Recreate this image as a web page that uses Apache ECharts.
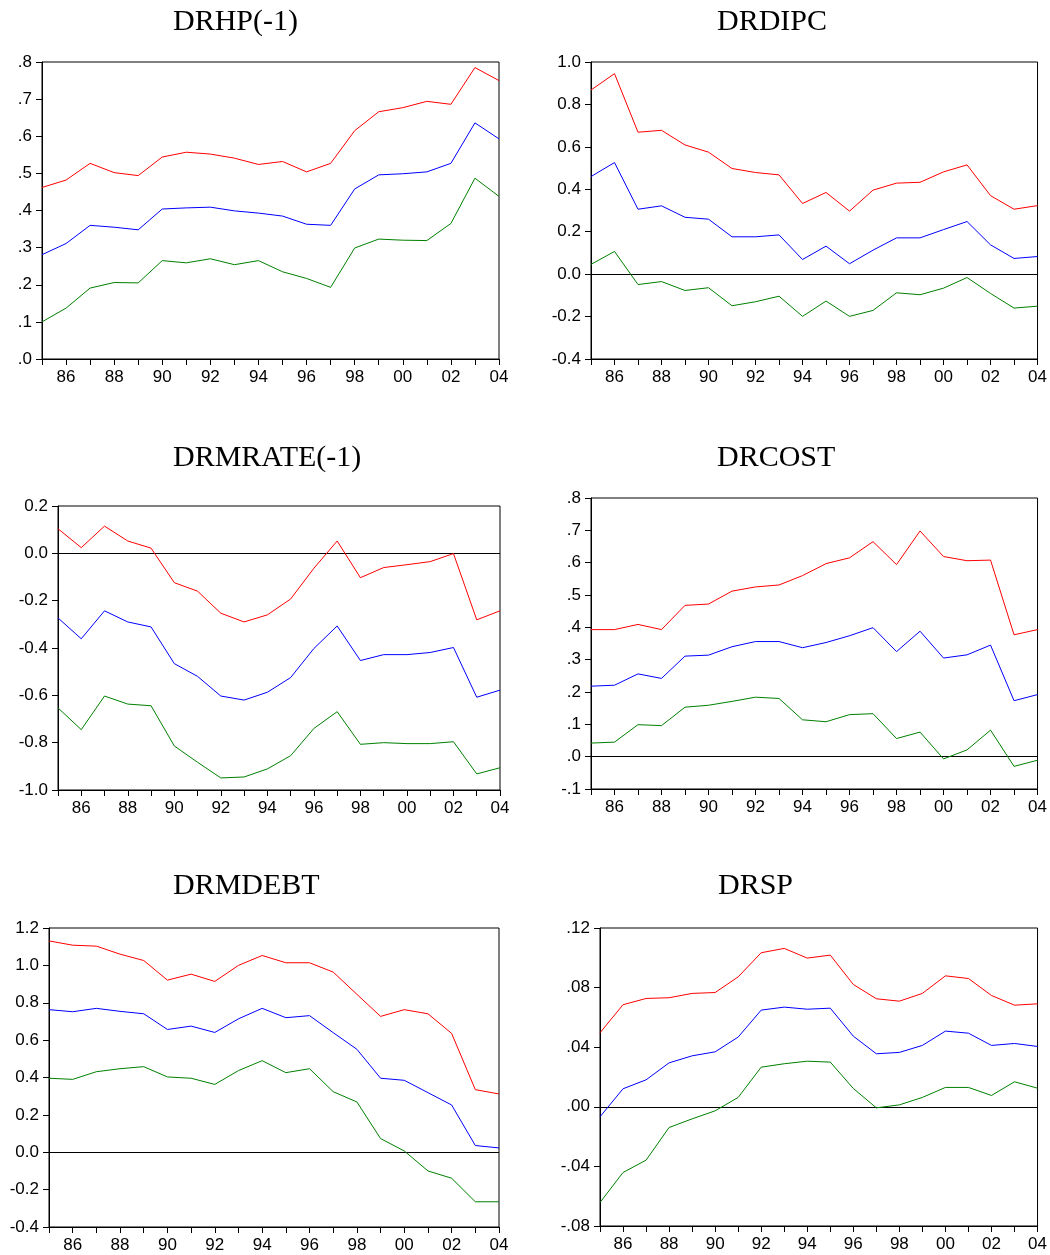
<!DOCTYPE html>
<html>
<head>
<meta charset="utf-8">
<title>Recursive coefficients</title>
<script src="https://cdn.jsdelivr.net/npm/echarts@6/dist/echarts.min.js"></script>
<style>
  html, body { margin: 0; padding: 0; background: #fff; }
  #chart { width: 1050px; height: 1255px; }
</style>
</head>
<body>
<div id="chart"></div>
<script>
// years 1985..2004, shown as two digits
const years = ['85','86','87','88','89','90','91','92','93','94','95','96','97','98','99','00','01','02','03','04'];

// DRHP(-1)
const drhpUpper = [0.462,0.482,0.527,0.502,0.494,0.544,0.557,0.552,0.541,0.524,0.532,0.504,0.527,0.615,0.666,0.677,0.694,0.686,0.785,0.750];
const drhpMid   = [0.281,0.311,0.360,0.355,0.348,0.404,0.407,0.409,0.399,0.393,0.385,0.363,0.360,0.458,0.496,0.499,0.504,0.527,0.636,0.593];
const drhpLower = [0.100,0.137,0.191,0.206,0.205,0.265,0.259,0.270,0.254,0.265,0.235,0.217,0.193,0.299,0.323,0.320,0.319,0.365,0.487,0.438];

// DRDIPC
const drdipcUpper = [0.868,0.945,0.669,0.678,0.609,0.575,0.498,0.479,0.468,0.333,0.385,0.297,0.396,0.429,0.433,0.482,0.515,0.370,0.306,0.323];
const drdipcMid   = [0.460,0.526,0.306,0.322,0.268,0.259,0.176,0.176,0.185,0.069,0.132,0.049,0.113,0.171,0.171,0.210,0.248,0.138,0.074,0.083];
const drdipcLower = [0.046,0.107,-0.049,-0.035,-0.077,-0.064,-0.149,-0.130,-0.104,-0.199,-0.127,-0.199,-0.171,-0.088,-0.097,-0.066,-0.016,-0.091,-0.160,-0.151];

// DRMRATE(-1)
const drmrateUpper = [0.104,0.024,0.115,0.052,0.022,-0.124,-0.160,-0.253,-0.290,-0.260,-0.193,-0.063,0.052,-0.103,-0.060,-0.048,-0.035,-0.001,-0.281,-0.243];
const drmrateMid   = [-0.273,-0.361,-0.243,-0.290,-0.311,-0.466,-0.520,-0.603,-0.620,-0.587,-0.525,-0.402,-0.307,-0.453,-0.428,-0.428,-0.419,-0.398,-0.608,-0.578];
const drmrateLower = [-0.653,-0.745,-0.603,-0.637,-0.644,-0.814,-0.883,-0.949,-0.945,-0.911,-0.855,-0.740,-0.669,-0.807,-0.800,-0.804,-0.804,-0.796,-0.932,-0.906];

// DRCOST
const drcostUpper = [0.393,0.393,0.409,0.393,0.468,0.472,0.512,0.525,0.531,0.560,0.597,0.615,0.665,0.594,0.698,0.619,0.606,0.608,0.377,0.393];
const drcostMid   = [0.218,0.221,0.256,0.242,0.311,0.314,0.340,0.356,0.356,0.337,0.353,0.374,0.399,0.325,0.388,0.305,0.315,0.345,0.173,0.192];
const drcostLower = [0.042,0.045,0.099,0.096,0.153,0.159,0.171,0.184,0.180,0.114,0.108,0.130,0.133,0.056,0.076,-0.007,0.021,0.082,-0.030,-0.011];

// DRMDEBT
const drmdebtUpper = [1.131,1.108,1.103,1.060,1.026,0.921,0.953,0.914,1.000,1.053,1.014,1.014,0.964,0.845,0.727,0.763,0.741,0.636,0.335,0.312];
const drmdebtMid   = [0.763,0.752,0.770,0.754,0.741,0.657,0.675,0.641,0.714,0.770,0.720,0.731,0.640,0.551,0.396,0.385,0.319,0.253,0.036,0.023];
const drmdebtLower = [0.396,0.390,0.431,0.447,0.458,0.403,0.396,0.363,0.437,0.490,0.426,0.447,0.324,0.269,0.073,0.007,-0.100,-0.139,-0.265,-0.265];

// DRSP
const drspUpper = [0.0497,0.0685,0.0727,0.0732,0.0761,0.0767,0.0872,0.1034,0.1063,0.0998,0.1018,0.0821,0.0725,0.0709,0.0761,0.0879,0.0861,0.0747,0.0682,0.0691];
const drspMid   = [-0.0067,0.0121,0.0181,0.0295,0.0342,0.0369,0.0468,0.0649,0.0669,0.0655,0.0662,0.0474,0.0356,0.0365,0.0412,0.0508,0.0494,0.0412,0.0425,0.0405];
const drspLower = [-0.0642,-0.0441,-0.0358,-0.0139,-0.0081,-0.0027,0.0063,0.0266,0.0289,0.0306,0.0300,0.0123,-0.0007,0.0013,0.0063,0.0130,0.0130,0.0076,0.0168,0.0125];

// panel setup: data + axis range + label style
const panels = [
  { name: 'DRHP(-1)',    lines: [drhpUpper, drhpMid, drhpLower],          min: 0,     max: 0.8,  step: 0.1,  dec: 1, dot: true,  zero: false,
    grid: { left: 42, top: 62, width: 457, height: 297 },  tl: 173, tt: 7 },
  { name: 'DRDIPC',      lines: [drdipcUpper, drdipcMid, drdipcLower],    min: -0.4,  max: 1.0,  step: 0.2,  dec: 1, dot: false, zero: true,
    grid: { left: 591, top: 62, width: 450, height: 297 }, tl: 717, tt: 7 },
  { name: 'DRMRATE(-1)', lines: [drmrateUpper, drmrateMid, drmrateLower], min: -1.0,  max: 0.2,  step: 0.2,  dec: 1, dot: false, zero: true,
    grid: { left: 58, top: 506, width: 442, height: 284 }, tl: 173, tt: 443 },
  { name: 'DRCOST',      lines: [drcostUpper, drcostMid, drcostLower],    min: -0.1,  max: 0.8,  step: 0.1,  dec: 1, dot: true,  zero: true,
    grid: { left: 591, top: 498, width: 450, height: 291 }, tl: 717, tt: 443 },
  { name: 'DRMDEBT',     lines: [drmdebtUpper, drmdebtMid, drmdebtLower], min: -0.4,  max: 1.2,  step: 0.2,  dec: 1, dot: false, zero: true,
    grid: { left: 49, top: 928, width: 450, height: 299 }, tl: 173, tt: 871 },
  { name: 'DRSP',        lines: [drspUpper, drspMid, drspLower],          min: -0.08, max: 0.12, step: 0.04, dec: 2, dot: true,  zero: true,
    grid: { left: 600, top: 928, width: 442, height: 298 }, tl: 718, tt: 871 }
];

const lineColors = ['#ff0000', '#0000ff', '#008000'];
const labelFont = { color: '#000', fontFamily: 'Liberation Sans, Arial, sans-serif', fontSize: 17 };

function fmt(dec, dot) {
  return function (v) {
    if (Math.abs(v) < 1e-9) v = 0;
    let s = v.toFixed(dec);
    if (dot) s = s.replace(/^(-?)0\./, '$1.');
    return s;
  };
}

const option = {
  animation: false,
  backgroundColor: '#fff',
  title: [],
  grid: [],
  xAxis: [],
  yAxis: [],
  series: []
};

panels.forEach((p, i) => {
  option.title.push({
    text: p.name, left: p.tl, top: p.tt, padding: 0,
    textStyle: { fontFamily: 'Liberation Serif, Times New Roman, serif', fontSize: 30, fontWeight: 'normal', color: '#000' }
  });
  option.grid.push(Object.assign({ show: true, borderColor: '#000', borderWidth: 1, backgroundColor: 'transparent' }, p.grid));
  option.xAxis.push({
    type: 'category', gridIndex: i, data: years, boundaryGap: false,
    axisLine: { onZero: false, lineStyle: { color: '#000', width: 1 } },
    axisTick: { show: true, interval: 0, length: 6, lineStyle: { color: '#000' } },
    axisLabel: Object.assign({ interval: (idx) => idx % 2 === 1, margin: 10 }, labelFont),
    splitLine: { show: false }
  });
  option.yAxis.push({
    type: 'value', gridIndex: i, min: p.min, max: p.max, interval: p.step,
    axisLine: { show: true, onZero: false, lineStyle: { color: '#000', width: 1 } },
    axisTick: { show: true, length: 6, lineStyle: { color: '#000' } },
    axisLabel: Object.assign({ formatter: fmt(p.dec, p.dot), margin: 10 }, labelFont),
    splitLine: { show: false }
  });
  p.lines.forEach((d, k) => {
    const s = {
      type: 'line', xAxisIndex: i, yAxisIndex: i, data: d,
      symbol: 'none', smooth: false,
      lineStyle: { color: lineColors[k], width: 1 },
      itemStyle: { color: lineColors[k] },
      z: 3
    };
    if (k === 0 && p.zero) {
      s.markLine = {
        silent: true, symbol: 'none', label: { show: false },
        lineStyle: { color: '#000', width: 1, type: 'solid' },
        data: [{ yAxis: 0 }], z: 2
      };
    }
    option.series.push(s);
  });
});

const chart = echarts.init(document.getElementById('chart'), null, { renderer: 'canvas' });
chart.setOption(option);
window.addEventListener('resize', function () {
  chart.resize();
});
</script>
</body>
</html>
